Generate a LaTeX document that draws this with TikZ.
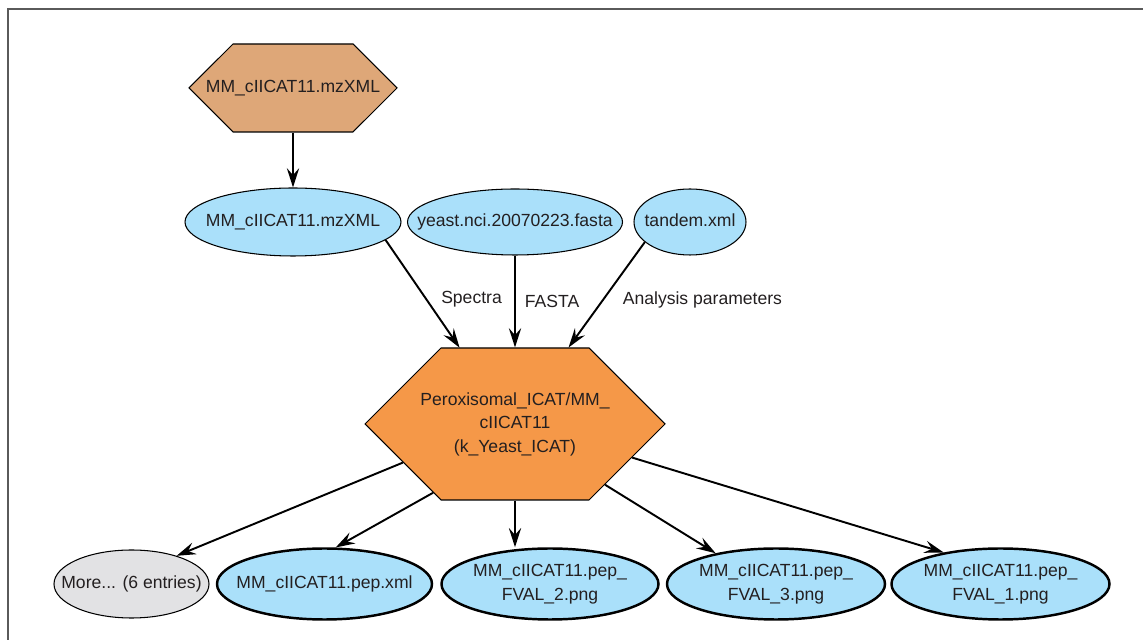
\documentclass[tikz,border=0pt]{standalone}
\usepackage{fontspec}
\setmainfont{Liberation Sans}
\usetikzlibrary{arrows.meta, shapes.geometric, shapes.symbols, positioning}

\definecolor{rawtan}{RGB}{222,167,120}
\definecolor{runorange}{RGB}{245,152,72}
\definecolor{fileblue}{RGB}{170,224,250}
\definecolor{moregray}{RGB}{226,226,228}
\definecolor{inkgray}{RGB}{35,31,32}
\definecolor{framegray}{RGB}{90,90,90}

% keep the text from growing the shape
\newcommand{\lbl}[1]{\makebox[0pt]{\begin{tabular}{@{}c@{}}#1\end{tabular}}}

\begin{document}
\begin{tikzpicture}[on grid, >={Stealth[length=11pt,width=7pt,inset=4pt]},
      font=\fontsize{10}{13.5}\selectfont, text=inkgray, inner sep=0pt,
      every edge/.style={draw, line width=1.1pt},
      hexa/.style={signal, signal from=nowhere, signal to=west and east,
        signal pointer angle=90, draw, line width=0.6pt},
      raw/.style={hexa, fill=rawtan, minimum width=4.16cm, minimum height=1.76cm},
      run/.style={hexa, fill=runorange, minimum width=6cm, minimum height=3.04cm},
      infile/.style={ellipse, draw, line width=0.6pt, fill=fileblue},
      outfile/.style={ellipse, draw, line width=1.4pt, fill=fileblue, minimum height=1.42cm},
      more/.style={ellipse, draw, line width=0.6pt, fill=moregray}]
  \useasboundingbox (0,0) rectangle (22.86,-12.8);
  \draw[framegray, line width=1.1pt] (0.16,-12.8) -- (0.16,-0.18) -- (22.86,-0.18);

  \node[raw] (rawmz) at (5.86,-1.76) {\lbl{MM\_cIICAT11.mzXML}};
  \node[infile, minimum width=4.32cm, minimum height=1.36cm] (mz) [below=2.68cm of rawmz] {\lbl{MM\_cIICAT11.mzXML}};
  \node[infile, minimum width=4.3cm, minimum height=1.32cm] (fasta) [right=4.44cm of mz] {\lbl{yeast.nci.20070223.fasta}};
  \node[infile, minimum width=2.24cm, minimum height=1.32cm] (tandem) [right=3.5cm of fasta] {\lbl{tandem.xml}};
  \node[run] (search) [below=4.04cm of fasta] {\lbl{Peroxisomal\_ICAT/MM\_\\cIICAT11\\(k\_Yeast\_ICAT)}};

  \node[outfile, minimum width=4.34cm] (fval2) [below right=3.2cm and 0.7cm of search] {\lbl{MM\_cIICAT11.pep\_\\FVAL\_2.png}};
  \node[outfile, minimum width=4.3cm] (pepxml) [left=4.51cm of fval2] {\lbl{MM\_cIICAT11.pep.xml}};
  \node[more, minimum width=3.1cm, minimum height=1.36cm] (more) [left=3.86cm of pepxml] {\lbl{More... (6 entries)}};
  \node[outfile, minimum width=4.36cm] (fval3) [right=4.52cm of fval2] {\lbl{MM\_cIICAT11.pep\_\\FVAL\_3.png}};
  \node[outfile, minimum width=4.36cm] (fval1) [right=4.49cm of fval3] {\lbl{MM\_cIICAT11.pep\_\\FVAL\_1.png}};

  \path[->] (rawmz) edge (mz)
            (mz.-11) edge node[right=0.28cm, pos=0.55] {Spectra} (search.126)
            (fasta) edge node[right=0.18cm, pos=0.5] {FASTA} (search)
            (tandem.204) edge node[right=0.38cm, pos=0.55] {Analysis parameters} (search.55)
            (search.199) edge (more.32)
            (search.220) edge (pepxml.73)
            (search.south) edge (search.south |- fval2.north)
            (search.-34) edge (fval3.153)
            (search.-16) edge (fval1.151);
\end{tikzpicture}
\end{document}
